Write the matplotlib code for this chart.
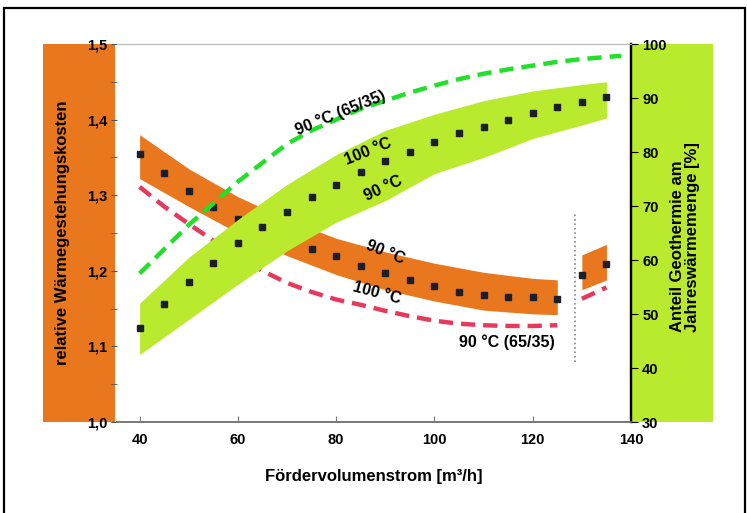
import matplotlib
matplotlib.use('Agg')
import matplotlib.pyplot as plt
from matplotlib.patches import Rectangle
from matplotlib.ticker import FuncFormatter, MultipleLocator

plt.rcParams['font.family'] = ['Liberation Sans', 'DejaVu Sans']

# Wärmegestehungskosten (linke Achse)
kosten_band_x = [40, 50, 60, 70, 80, 90, 100, 110, 120, 125]
kosten_band_oben = [1.38, 1.335, 1.298, 1.268, 1.243, 1.225, 1.21, 1.198, 1.19, 1.188]
kosten_band_unten = [1.322, 1.285, 1.25, 1.22, 1.195, 1.175, 1.16, 1.148, 1.143, 1.142]
kosten_band2_x = [130, 135]
kosten_band2_oben = [1.221, 1.235]
kosten_band2_unten = [1.175, 1.188]

kosten_punkte_x = [40, 45, 50, 55, 60, 70, 75, 80, 85, 90, 95, 100, 105, 110, 115, 120, 125, 130, 135]
kosten_punkte_y = [1.354, 1.329, 1.305, 1.284, 1.268, 1.236, 1.229, 1.219, 1.206, 1.197,
                   1.188, 1.180, 1.172, 1.168, 1.165, 1.165, 1.163, 1.195, 1.209]

kosten_6535_x = [40, 45, 50, 55, 60, 65, 70, 75, 80, 85, 90, 95, 100, 105, 110, 115, 120, 125]
kosten_6535_y = [1.311, 1.285, 1.262, 1.240, 1.218, 1.200, 1.184, 1.172, 1.162, 1.155,
                 1.147, 1.140, 1.134, 1.130, 1.128, 1.127, 1.127, 1.128]
kosten_6535_2_x = [130, 135]
kosten_6535_2_y = [1.163, 1.178]

# Anteil Geothermie (rechte Achse)
anteil_band_x = [40, 50, 60, 70, 80, 90, 100, 110, 120, 130, 135]
anteil_band_oben = [52, 60.5, 67.5, 74, 79.5, 84, 87, 89.5, 91.3, 92.5, 93]
anteil_band_unten = [42.5, 49, 55.5, 61.7, 67, 71, 76, 79, 82.5, 85, 86.3]

anteil_punkte_x = [40, 45, 50, 55, 60, 65, 70, 75, 80, 85, 90, 95, 100, 105, 110, 115, 120, 125, 130, 135]
anteil_punkte_y = [47.4, 51.9, 55.9, 59.5, 63.2, 66.1, 68.9, 71.7, 73.9, 76.3, 78.4,
                   80.0, 81.9, 83.5, 84.6, 85.9, 87.2, 88.3, 89.3, 90.2]

anteil_6535_x = [40, 45, 50, 55, 60, 65, 70, 75, 80, 85, 90, 95, 100, 105, 110, 115, 120, 125, 130, 135, 138]
anteil_6535_y = [57.5, 62, 66.5, 70.5, 74.5, 78, 81.5, 84, 86, 88, 89.5, 91, 92.3, 93.5,
                 94.5, 95.3, 96, 96.7, 97.2, 97.6, 97.8]

trenn_x = 128.6
trenn_y = [1.08, 1.277]

x_ticks = [40, 60, 80, 100, 120, 140]

orange = '#E8771E'
hellgruen = '#B9EA2E'
gruen = '#22E02A'
rot = '#E6395E'
punkt = '#1c1f2a'

fig = plt.figure(figsize=(7.47, 5.13), dpi=100)

# Rahmen und farbige Achsenbänder
fig.patches.append(Rectangle((4 / 747, -0.02), 741 / 747, 1 - 8 / 513 + 0.02, transform=fig.transFigure,
                             fill=False, edgecolor='black', linewidth=1.6, zorder=-2))
fig.patches.append(Rectangle((43 / 747, 1 - 422 / 513), 72 / 747, 378 / 513, transform=fig.transFigure,
                             facecolor=orange, edgecolor='none', zorder=-2))
fig.patches.append(Rectangle((631 / 747, 1 - 422 / 513), 82 / 747, 378 / 513, transform=fig.transFigure,
                             facecolor=hellgruen, edgecolor='none', zorder=-2))

ax = fig.add_axes([117 / 747, 1 - 422 / 513, 514 / 747, 378 / 513])
ax2 = ax.twinx()

ax.fill_between(kosten_band_x, kosten_band_unten, kosten_band_oben, color=orange, lw=0)
ax.fill_between(kosten_band2_x, kosten_band2_unten, kosten_band2_oben, color=orange, lw=0)
ax.plot(kosten_6535_x, kosten_6535_y, color=rot, lw=3.2, dashes=(3.2, 1.8))
ax.plot(kosten_6535_2_x, kosten_6535_2_y, color=rot, lw=3.2, dashes=(3.2, 1.8))
ax.plot(kosten_punkte_x, kosten_punkte_y, 's', color=punkt, ms=4)
ax.plot([trenn_x, trenn_x], trenn_y, ':', color='#888888', lw=1.2)

ax2.plot(anteil_6535_x, anteil_6535_y, color=gruen, lw=3.2, dashes=(3.2, 1.8))
ax2.fill_between(anteil_band_x, anteil_band_unten, anteil_band_oben, color=hellgruen, lw=0)
ax2.plot(anteil_punkte_x, anteil_punkte_y, 's', color=punkt, ms=4)

ax.set_xlim(35.4, 140)
ax.set_ylim(1.0, 1.5)
ax2.set_ylim(30, 100)
ax.set_xticks(x_ticks)
ax.yaxis.set_major_locator(MultipleLocator(0.1))
ax.yaxis.set_minor_locator(MultipleLocator(0.05))
ax.yaxis.set_major_formatter(FuncFormatter(lambda v, p: f'{v:.1f}'.replace('.', ',')))
ax2.yaxis.set_major_locator(MultipleLocator(10))

ax.tick_params(axis='x', direction='in', length=4, color='#777777', labelsize=10.5, pad=8)
ax.tick_params(axis='y', which='both', direction='out', length=4, color='#555555', labelsize=10.5, pad=3)
ax2.tick_params(axis='y', direction='out', length=5, color='black', labelsize=10.5, pad=3)
for lab in ax.get_xticklabels() + ax.get_yticklabels() + ax2.get_yticklabels():
    lab.set_fontweight('bold')

for a in (ax, ax2):
    a.spines['left'].set_visible(False)
    a.spines['top'].set_color('#bbbbbb')
    a.spines['bottom'].set_color('#777777')
    a.spines['bottom'].set_linewidth(1.2)
    a.spines['right'].set_color('black')
    a.spines['right'].set_linewidth(1.6)
    a.patch.set_visible(False)

fig.text(62 / 747, 1 - 233 / 513, 'relative Wärmegestehungskosten', rotation=90,
         ha='center', va='center', fontsize=12, fontweight='bold')
fig.text(685 / 747, 1 - 332 / 513, 'Anteil Geothermie am\nJahreswärmemenge [%]', rotation=90,
         ha='center', va='bottom', fontsize=12, fontweight='bold', multialignment='left', linespacing=1.0)
ax.set_xlabel('Fördervolumenstrom [m³/h]', fontsize=12, fontweight='bold', labelpad=16)

etikett = dict(ha='center', va='center', fontsize=11.5, fontweight='bold', transform=ax.transData)
ax2.text(80.8, 1.409, '90 °C (65/35)', rotation=22, **etikett)
ax2.text(86.5, 1.358, '100 °C', rotation=22, **etikett)
ax2.text(89.5, 1.309, '90 °C', rotation=25, **etikett)
ax2.text(90, 1.225, '90 °C', rotation=-22, **etikett)
ax2.text(88.3, 1.170, '100 °C', rotation=-15, **etikett)
ax2.text(114.8, 1.106, '90 °C (65/35)', rotation=0, **etikett)

plt.savefig('out.png', dpi=100)
